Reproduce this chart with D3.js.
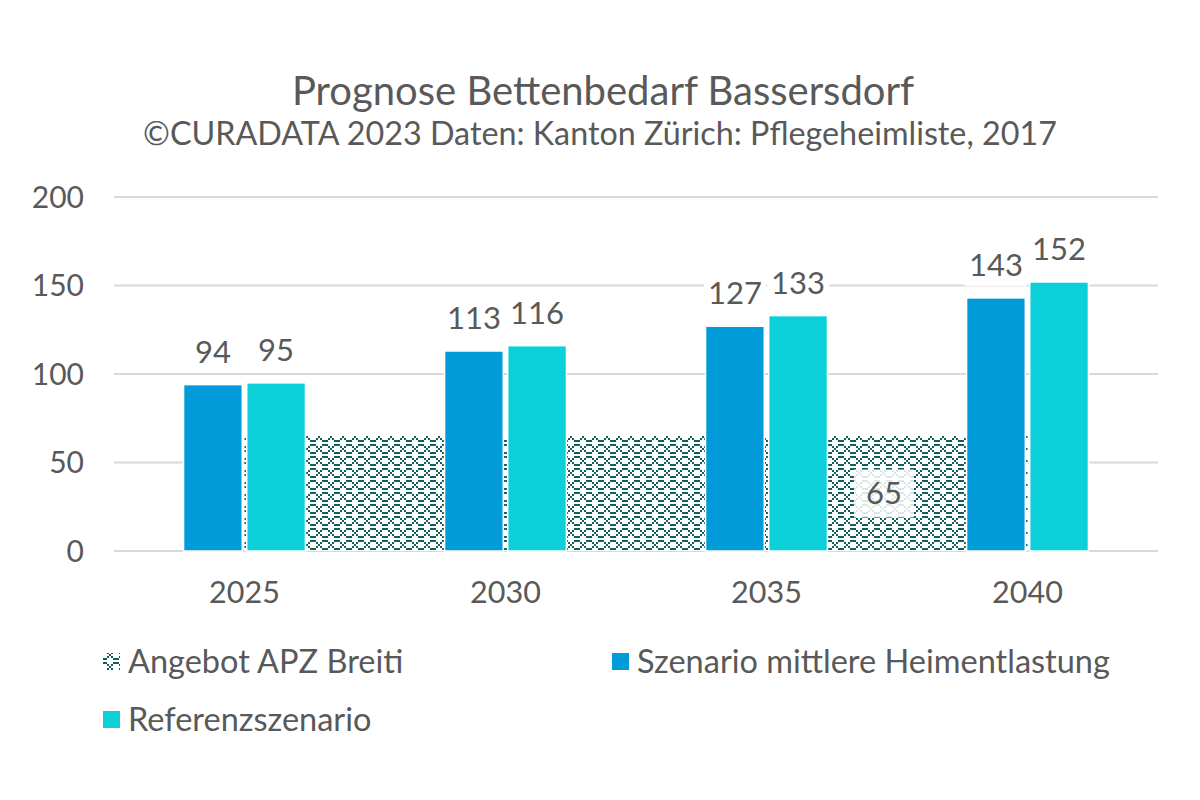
<!DOCTYPE html>
<html>
<head>
<meta charset="utf-8">
<script src="https://cdn.jsdelivr.net/npm/d3@7"></script>
<style>
    body { margin: 0; background: #fff; }
    svg { display: block; font-family: Lato, "Open Sans", sans-serif; }
</style>
</head>
<body>
<script>
// data
var years = ["2025", "2030", "2035", "2040"];
var seriesNames = ["Szenario mittlere Heimentlastung", "Referenzszenario"];
var mittlere = [94, 113, 127, 143];
var referenz = [95, 116, 133, 152];
var angebot = [65, 65, 65, 65];
var angebotName = "Angebot APZ Breiti";
var yTicks = [0, 50, 100, 150, 200];
var title = "Prognose Bettenbedarf Bassersdorf";
var subtitle = "©CURADATA 2023 Daten: Kanton Zürich: Pflegeheimliste, 2017";

var width = 1200, height = 800;
var textColor = "#595959";
var colors = {
    mittlere: "#009bd8",
    referenz: "#0bcfd9",
    pattern: "#12605c"
};

var svg = d3.select("body").append("svg")
    .attr("width", width)
    .attr("height", height)
    .attr("viewBox", [0, 0, width, height]);

// weave-like bitmap pattern: crosses joined by short dashes
var bits = [
    "110001",
    "001010",
    "000100",
    "001010",
    "110001",
    "000000"
];
var cell = 2;
var pattern = svg.append("defs").append("pattern")
    .attr("id", "weave")
    .attr("patternUnits", "userSpaceOnUse")
    .attr("width", bits[0].length * cell)
    .attr("height", bits.length * cell);
pattern.append("rect")
    .attr("width", bits[0].length * cell)
    .attr("height", bits.length * cell)
    .attr("fill", "#fff");
bits.forEach((row, r) => {
    row.split("").forEach((b, c) => {
        if (b == "1") {
            pattern.append("rect")
                .attr("x", c * cell)
                .attr("y", r * cell)
                .attr("width", cell)
                .attr("height", cell)
                .attr("fill", colors.pattern);
        }
    });
});

// scales
var x = d3.scaleBand()
    .domain(years)
    .range([114, 1158])
    .paddingInner(0.533)
    .paddingOuter(0.2665);

var xs = d3.scaleBand()
    .domain(seriesNames)
    .range([0, x.bandwidth()])
    .paddingInner(0.07);

var y = d3.scaleLinear()
    .domain([0, 200])
    .range([551, 197]);

// title
svg.append("text")
    .attr("x", 603)
    .attr("y", 105)
    .attr("text-anchor", "middle")
    .attr("fill", textColor)
    .style("font-size", "40px")
    .text(title);

svg.append("text")
    .attr("x", 600)
    .attr("y", 145)
    .attr("text-anchor", "middle")
    .attr("fill", textColor)
    .style("font-size", "32.3px")
    .text(subtitle);

// gridlines
svg.append("g")
    .selectAll("line")
    .data(yTicks)
    .join("line")
    .attr("x1", 114)
    .attr("x2", 1158)
    .attr("y1", d => y(d))
    .attr("y2", d => y(d))
    .attr("stroke", "#d9d9d9")
    .attr("stroke-width", 2);

// y tick labels
svg.append("g")
    .selectAll("text")
    .data(yTicks)
    .join("text")
    .attr("x", 84)
    .attr("y", d => y(d))
    .attr("dy", "0.35em")
    .attr("text-anchor", "end")
    .attr("fill", textColor)
    .style("font-size", "30px")
    .text(d => d);

// x tick labels
svg.append("g")
    .selectAll("text")
    .data(years)
    .join("text")
    .attr("x", d => x(d) + x.bandwidth() / 2)
    .attr("y", 603)
    .attr("text-anchor", "middle")
    .attr("fill", textColor)
    .style("font-size", "30.5px")
    .text(d => d);

// area (Angebot)
var area = d3.area()
    .x((d, i) => x(years[i]) + x.bandwidth() / 2)
    .y0(y(0))
    .y1(d => y(d));

svg.append("path")
    .datum(angebot)
    .attr("d", area)
    .attr("fill", "url(#weave)");

// bars
var rows = years.map((yr, i) => ({
    year: yr,
    values: [
        { key: seriesNames[0], value: mittlere[i], color: colors.mittlere },
        { key: seriesNames[1], value: referenz[i], color: colors.referenz }
    ]
}));

var groups = svg.append("g")
    .selectAll("g")
    .data(rows)
    .join("g")
    .attr("transform", d => `translate(${x(d.year)},0)`);

groups.selectAll("rect")
    .data(d => d.values)
    .join("rect")
    .attr("x", d => xs(d.key))
    .attr("y", d => y(d.value))
    .attr("width", xs.bandwidth())
    .attr("height", d => y(0) - y(d.value))
    .attr("fill", d => d.color)
    .attr("stroke", "#fff")
    .attr("stroke-width", 1.5);

// bar labels with white background
var labels = groups.selectAll("g.lbl")
    .data(d => d.values)
    .join("g")
    .attr("class", "lbl")
    .attr("transform", d => `translate(${xs(d.key) + xs.bandwidth() / 2},${y(d.value) - 22})`);

labels.append("rect")
    .attr("x", -31)
    .attr("y", -34)
    .attr("width", 62)
    .attr("height", 44)
    .attr("fill", "#fff");

labels.append("text")
    .attr("text-anchor", "middle")
    .attr("fill", textColor)
    .style("font-size", "31px")
    .text(d => d.value);

// area label
var lx = x(years[2]) + x.bandwidth() / 2 + (x(years[3]) - x(years[2])) * 0.45;
var ly = y(angebot[3] / 2);
var areaLabel = svg.append("g")
    .attr("transform", `translate(${lx},${ly})`);
areaLabel.append("rect")
    .attr("x", -30)
    .attr("y", -24)
    .attr("width", 60)
    .attr("height", 48)
    .attr("fill", "#fff")
    .attr("fill-opacity", 0.85);
areaLabel.append("text")
    .attr("text-anchor", "middle")
    .attr("dy", "0.35em")
    .attr("fill", textColor)
    .style("font-size", "31px")
    .text(angebot[3]);

// legend
var legendItems = [
    { name: angebotName, fill: "url(#weave)", x: 103, y: 662 },
    { name: seriesNames[0], fill: colors.mittlere, x: 612, y: 662 },
    { name: seriesNames[1], fill: colors.referenz, x: 103, y: 720 }
];

var legend = svg.append("g")
    .selectAll("g")
    .data(legendItems)
    .join("g")
    .attr("transform", d => `translate(${d.x},${d.y})`);

legend.append("rect")
    .attr("x", 0)
    .attr("y", -9)
    .attr("width", 17)
    .attr("height", 17)
    .attr("fill", d => d.fill);

legend.append("text")
    .attr("x", 25)
    .attr("y", 0)
    .attr("dy", "0.35em")
    .attr("fill", textColor)
    .style("font-size", "32.5px")
    .text(d => d.name);
</script>
</body>
</html>
